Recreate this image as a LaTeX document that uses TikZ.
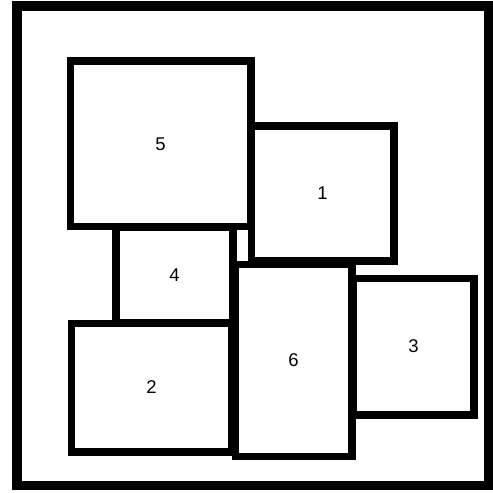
\documentclass[tikz,border=0pt]{standalone}
\usepackage{fontspec}
\setmainfont{Liberation Sans}
\usepackage{tikz}
\tikzset{
    room/.style={draw, fill=white, line width=4pt, inner sep=0pt,
                 font=\fontsize{10.5}{12}\selectfont},
    frame/.style={draw, line width=5.4pt}
}

\begin{document}
\begin{tikzpicture}[x=0.02cm,y=-0.02cm]
    \useasboundingbox (0,0) rectangle (493,493);
    \draw[frame] (17,6) rectangle (488.5,485.5);
    % boxes: label / centre x / centre y / width / height
    \foreach \n/\cx/\cy/\w/\h in {4/174.5/275/2.34/1.92,
                                  5/160.5/144/3.62/3.32,
                                  1/322.5/193.5/2.86/2.70,
                                  2/151.5/387.5/3.22/2.58,
                                  6/293.5/360.5/2.34/3.86,
                                  3/413.5/346.5/2.42/2.74}
    {
        \node[room, minimum width=\w cm, minimum height=\h cm] (box\n) at (\cx,\cy) {\n};
    }
\end{tikzpicture}
\end{document}
